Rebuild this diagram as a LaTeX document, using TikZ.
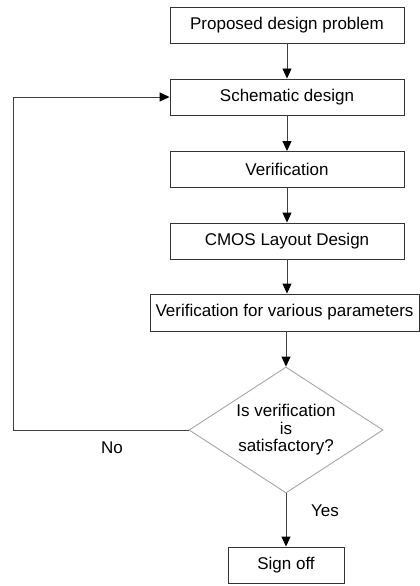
\documentclass[tikz,border=0pt]{standalone}
\usepackage{fontspec}
\setmainfont{Liberation Sans}
\usetikzlibrary{arrows.meta,shapes.geometric}

\tikzset{
  stepbox/.style={draw=black!80, line width=0.9pt, minimum height=36pt,
    inner sep=0pt, font=\fontsize{17}{19}\selectfont},
  decision/.style={draw=black!35, line width=0.9pt, diamond, aspect=1.54,
    inner sep=0pt, minimum width=194pt, minimum height=126pt, align=center,
    font=\fontsize{17}{17.5}\selectfont},
  flow/.style={draw=black!75, line width=0.9pt, -{Triangle[length=10pt,width=9pt,color=black]}},
  lbl/.style={font=\fontsize{17}{19}\selectfont, inner sep=0pt}
}

\begin{document}
\begin{tikzpicture}[x=1pt,y=-1pt]
  %%%%% START %%%%%
  \useasboundingbox (0,0) rectangle (420,586);

  \node[stepbox, minimum width=234pt] (prob)   at (287,25)    {Proposed design problem};
  \node[stepbox, minimum width=234pt] (schem)  at (287,97)    {Schematic design};
  \node[stepbox, minimum width=234pt] (verif)  at (287,169.5) {Verification};
  \node[stepbox, minimum width=234pt] (layout) at (287,241)   {CMOS Layout Design};
  \node[stepbox, minimum width=269pt, minimum height=37pt] (params) at (284.5,312.5) {Verification for various parameters};

  \node[decision] (check) at (286,430) {Is verification\\is\\satisfactory?};

  \node[stepbox, minimum width=116pt] (signoff) at (286,565) {Sign off};

  \coordinate (loop) at (13,430);

  \draw[flow] (prob) -- (schem);
  \draw[flow] (schem) -- (verif);
  \draw[flow] (verif) -- (layout);
  \draw[flow] (layout.south) -- (params.north -| layout.south);
  \draw[flow] (params.south -| check.north) -- (check.north);
  \draw[flow] (check.south) -- (signoff.north);
  \draw[flow] (check.west) -- (loop) |- (schem.west);

  \node[lbl] (no)  at (112,448) {No};
  \node[lbl] (yes) at (325,511) {Yes};
  %%%%% END %%%%%
\end{tikzpicture}
\end{document}
